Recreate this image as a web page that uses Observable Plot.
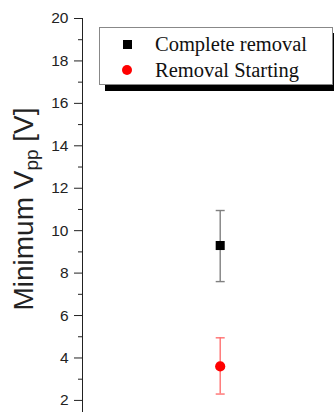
<!DOCTYPE html>
<html>
<head>
<meta charset="utf-8">
<script src="https://cdn.jsdelivr.net/npm/d3@7"></script>
<script src="https://cdn.jsdelivr.net/npm/@observablehq/plot@0.6"></script>
<style>
  html, body { margin: 0; padding: 0; background: #fff; overflow: hidden; }
  #wrap { position: relative; width: 334px; height: 412px; overflow: hidden; }
  #legend { position: absolute; left: 99px; top: 27px; width: 232px; height: 56px;
    border: 1px solid #888; background: #fff; box-shadow: 6px 6px 0 #000;
    font-family: "Liberation Serif", "Times New Roman", serif; font-size: 20.5px; color: #111; }
  .row { position: absolute; left: 0; height: 24px; line-height: 24px; }
  .row span.t { position: absolute; left: 55px; white-space: nowrap; }
  .sw { position: absolute; }
</style>
</head>
<body>
<div id="wrap"></div>
<script>
const series = ["Complete removal", "Removal Starting"];
const values = [9.3, 3.6];
const errLow = [7.6, 2.3];
const errHigh = [10.95, 4.95];
const xCond = [1, 1];
const colors = ["#000000", "#ff0000"];
const barColors = ["#808080", "#ff7070"];
const symbols = ["square", "circle"];
const yMajor = [2, 4, 6, 8, 10, 12, 14, 16, 18, 20];
const yMinor = [3, 5, 7, 9, 11, 13, 15, 17, 19];

const data = series.map((s, i) => ({
  s, x: xCond[i], y: values[i], lo: errLow[i], hi: errHigh[i],
  c: colors[i], bc: barColors[i], sym: symbols[i]
}));

const capSymbol = {
  draw(ctx, size) {
    const w = Math.sqrt(size / Math.PI);
    ctx.moveTo(-w, 0);
    ctx.lineTo(w, 0);
  }
};

const chart = Plot.plot({
  width: 334,
  height: 412,
  marginLeft: 82,
  marginRight: 0,
  marginTop: 18,
  marginBottom: 0,
  style: { fontFamily: "'Liberation Sans', Arial, sans-serif", color: "#222", background: "#fff" },
  x: { domain: [0, 1.83], axis: null },
  y: { domain: [1.43, 20], axis: null },
  marks: [
    Plot.ruleX([0], { stroke: "#222", strokeWidth: 1 }),
    Plot.axisY(yMajor, { anchor: "left", tickSize: 8, tickPadding: 6, fontSize: 15.5, label: null, stroke: "#222", fill: "#222" }),
    Plot.axisY(yMinor, { anchor: "left", tickSize: 4, tickFormat: () => "", label: null, stroke: "#222" }),
    Plot.ruleX(data, { x: "x", y1: "lo", y2: "hi", stroke: "bc", strokeWidth: 1.4 }),
    Plot.dot(data, { x: "x", y: "lo", symbol: capSymbol, r: 4.5, stroke: "bc", strokeWidth: 1.4 }),
    Plot.dot(data, { x: "x", y: "hi", symbol: capSymbol, r: 4.5, stroke: "bc", strokeWidth: 1.4 }),
    Plot.dot(data, { x: "x", y: "y", symbol: "sym", r: 5.1, fill: "c", stroke: "none" })
  ]
});

const wrap = document.getElementById("wrap");
wrap.appendChild(chart);

// Y axis title with subscript
const svg = d3.select(chart);
const lab = svg.append("text")
  .attr("transform", "translate(33,209) rotate(-90)")
  .attr("text-anchor", "middle")
  .attr("font-family", "'Liberation Sans', Arial, sans-serif")
  .attr("font-size", 28)
  .attr("fill", "#222");
lab.append("tspan").text("Minimum V");
lab.append("tspan").attr("font-size", 19).attr("dy", 5).text("pp");
lab.append("tspan").attr("dy", -5).text(" [V]");

// Legend
const leg = document.createElement("div");
leg.id = "legend";
series.forEach((s, i) => {
  const row = document.createElement("div");
  row.className = "row";
  row.style.top = (i === 0 ? 4 : 30) + "px";
  row.style.width = "100%";
  const sw = document.createElement("div");
  sw.className = "sw";
  if (symbols[i] === "square") {
    sw.style.cssText = `left:23px;top:8px;width:9px;height:9px;background:${colors[i]};position:absolute;`;
  } else {
    sw.style.cssText = `left:22px;top:7px;width:10px;height:10px;border-radius:50%;background:${colors[i]};position:absolute;`;
  }
  const t = document.createElement("span");
  t.className = "t";
  t.textContent = s;
  row.appendChild(sw);
  row.appendChild(t);
  leg.appendChild(row);
});
wrap.appendChild(leg);
</script>
</body>
</html>
